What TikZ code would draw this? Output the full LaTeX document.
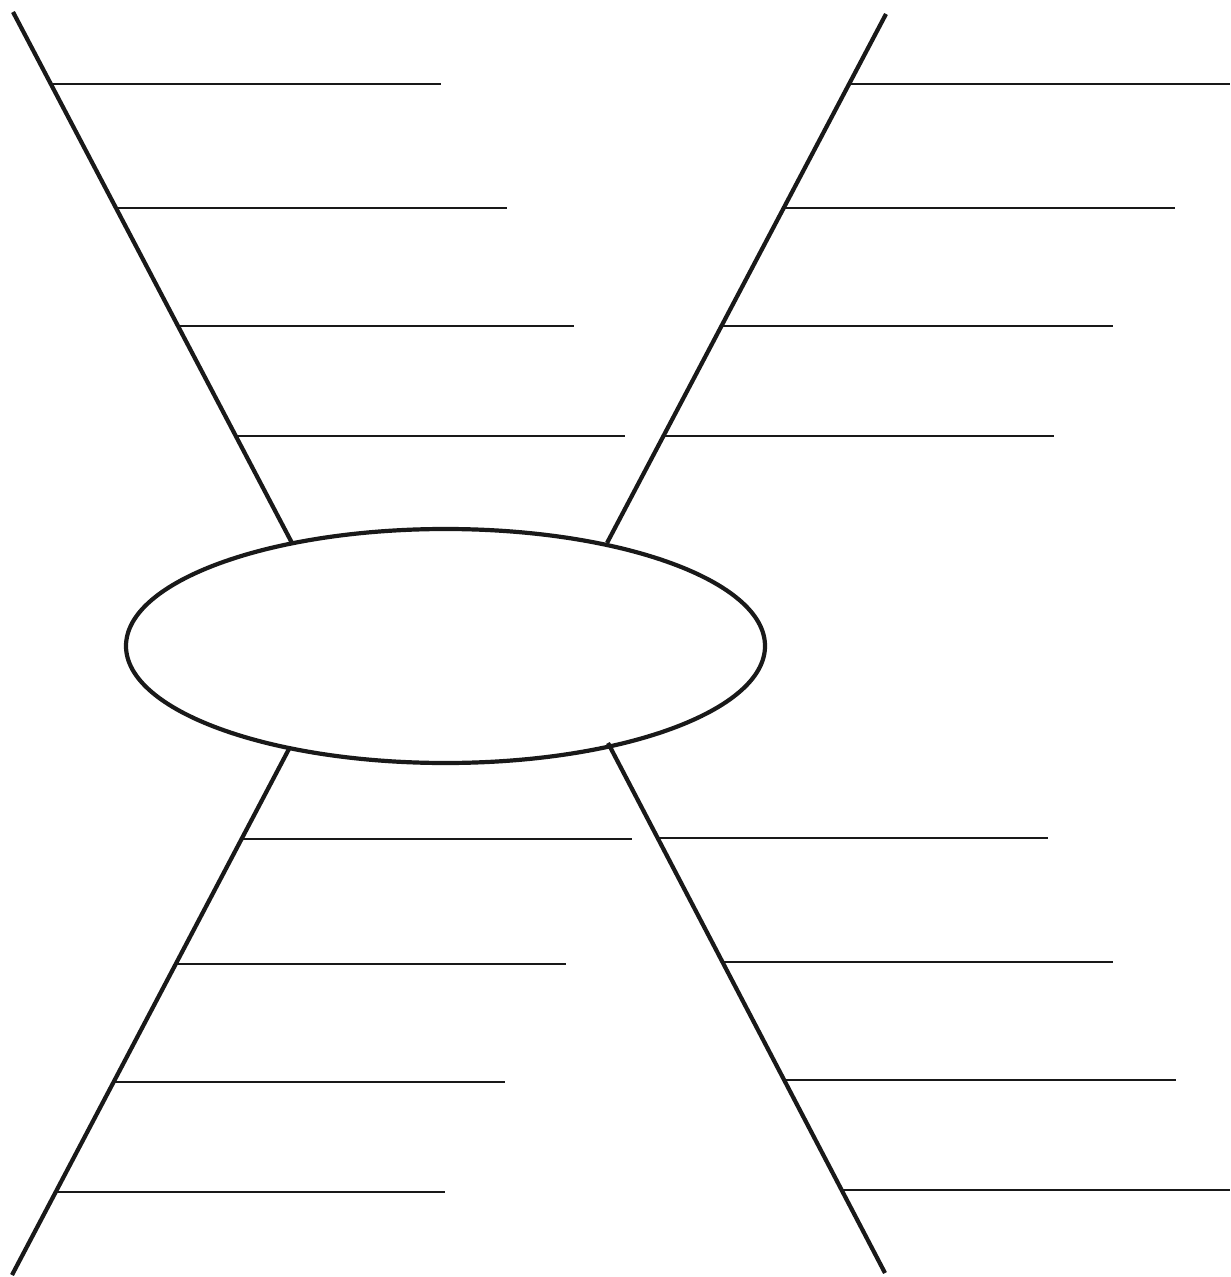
\documentclass[tikz,border=0pt]{standalone}
\usetikzlibrary{shapes.geometric}
\begin{document}
\begin{tikzpicture}[x=0.5pt,y=-0.5pt,
  bone/.style={line width=2.1pt,draw=black!90},
  rib/.style={line width=1.1pt,draw=black!90},
  head/.style={ellipse,draw=black!90,line width=2.1pt,minimum width=319.5pt,minimum height=117pt,inner sep=0pt}]
\useasboundingbox (0,0) rectangle (1230,1277);
\node[head] (ell) at (445.5,646) {};
% diagonal end points
\coordinate (tlA) at (13,12);   \coordinate (tlB) at (292,543);
\coordinate (trA) at (886,14);  \coordinate (trB) at (607,543);
\coordinate (blA) at (290,747); \coordinate (blB) at (12,1275);
\coordinate (brA) at (608,743); \coordinate (brB) at (885,1273);
\draw[bone] (tlA) -- (tlB);
\draw[bone] (trA) -- (trB);
\draw[bone] (blA) -- (blB);
\draw[bone] (brA) -- (brB);
% ribs top-left
\foreach \y/\xs/\xe [count=\i] in {84/51/441,208/116/507,326/178/574,436/236/625}{
  \coordinate (tls\i) at (\xs,\y); \coordinate (tle\i) at (\xe,\y);
  \draw[rib] (tls\i) -- (tle\i);}
% ribs top-right
\foreach \y/\xs/\xe [count=\i] in {84/849/1230,208/784/1175,326/721/1113,436/663/1054}{
  \coordinate (trs\i) at (\xs,\y); \coordinate (tre\i) at (\xe,\y);
  \draw[rib] (trs\i) -- (tre\i);}
% ribs bottom-left
\foreach \y/\xs/\xe [count=\i] in {839/242/632,964/176/566,1082/114/505,1192/56/445}{
  \coordinate (bls\i) at (\xs,\y); \coordinate (ble\i) at (\xe,\y);
  \draw[rib] (bls\i) -- (ble\i);}
% ribs bottom-right
\foreach \y/\xs/\xe [count=\i] in {838/658/1048,962/722/1113,1080/784/1176,1190/842/1230}{
  \coordinate (brs\i) at (\xs,\y); \coordinate (bre\i) at (\xe,\y);
  \draw[rib] (brs\i) -- (bre\i);}
\end{tikzpicture}
\end{document}
